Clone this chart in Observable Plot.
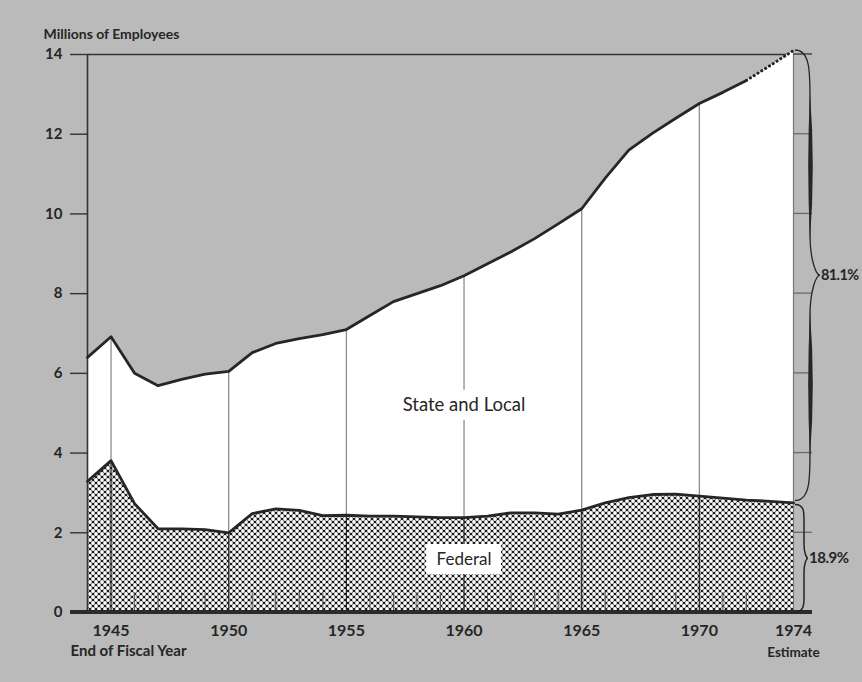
<!DOCTYPE html>
<html>
<head>
<meta charset="utf-8">
<script src="https://cdn.jsdelivr.net/npm/d3@7"></script>
<script src="https://cdn.jsdelivr.net/npm/@observablehq/plot@0.6"></script>
<style>
  html, body { margin: 0; padding: 0; background: #bababa; }
  #chart { width: 862px; height: 682px; }
  #chart svg { background: transparent; overflow: visible; }
</style>
</head>
<body>
<svg width="0" height="0" style="position:absolute">
  <defs>
    <pattern id="hatch" width="6" height="6" patternUnits="userSpaceOnUse">
      <rect width="6" height="6" fill="#1a1a1a"></rect>
      <circle cx="0" cy="0" r="1.9" fill="#fff"></circle>
      <circle cx="6" cy="0" r="1.9" fill="#fff"></circle>
      <circle cx="0" cy="6" r="1.9" fill="#fff"></circle>
      <circle cx="6" cy="6" r="1.9" fill="#fff"></circle>
      <circle cx="3" cy="3" r="1.9" fill="#fff"></circle>
    </pattern>
  </defs>
</svg>
<div id="chart"></div>
<script>
// ---- data (millions of employees, end of fiscal year) ----
const years   = [1944, 1945, 1946, 1947, 1948, 1949, 1950, 1951, 1952, 1953, 1954,
                 1955, 1956, 1957, 1958, 1959, 1960, 1961, 1962, 1963, 1964,
                 1965, 1966, 1967, 1968, 1969, 1970, 1971, 1972, 1973, 1974];
const total   = [6.40, 6.92, 6.00, 5.69, 5.85, 5.98, 6.05, 6.52, 6.75, 6.87, 6.97,
                 7.10, 7.45, 7.80, 8.00, 8.20, 8.45, 8.75, 9.05, 9.38, 9.75,
                 10.13, 10.90, 11.60, 12.02, 12.40, 12.77, 13.05, 13.35, 13.72, 14.10];
const federal = [3.29, 3.81, 2.73, 2.10, 2.10, 2.08, 2.00, 2.48, 2.60, 2.56, 2.43,
                 2.44, 2.42, 2.42, 2.40, 2.38, 2.38, 2.42, 2.50, 2.50, 2.47,
                 2.57, 2.75, 2.88, 2.96, 2.97, 2.92, 2.87, 2.82, 2.79, 2.75];
const estimateFrom = 1972;

const xTicks = [1945, 1950, 1955, 1960, 1965, 1970, 1974];
const yTicks = [0, 2, 4, 6, 8, 10, 12, 14];
const majorYears = [1945, 1950, 1955, 1960, 1965, 1970];
const areaLabels = ["State and Local", "Federal"];
const labelYears = [1960, 1960];
const labelValues = [5.2, 1.33];
const shareLabels = ["81.1%", "18.9%"];
const yTitle = "Millions of Employees";
const xTitle = "End of Fiscal Year";
const estimateLabel = "Estimate";

// ---- tables built from the arrays ----
const rows = years.map((year, i) => ({year, total: total[i], federal: federal[i]}));
const solidRows = rows.filter(d => d.year <= estimateFrom);
const dottedRows = rows.filter(d => d.year >= estimateFrom);
const majorRows = rows.filter(d => majorYears.includes(d.year));
const minorYears = years.filter(y => !majorYears.includes(y) && y !== years[0] && y !== years[years.length - 1]);
const labels = areaLabels.map((text, i) => ({text, year: labelYears[i], value: labelValues[i]}));

const FONT = "Lato, 'Noto Sans', sans-serif";
const INK = "#262626";
const labelSize = [18.5, 17];

// white boxes behind the area labels
const labelBoxes = (index, {x, y}) => {
  const g = d3.create("svg:g");
  const ctx = document.createElement("canvas").getContext("2d");
  labels.forEach((d, i) => {
    ctx.font = `${labelSize[i]}px ${FONT}`;
    const w = ctx.measureText(d.text).width;
    g.append("rect")
      .attr("x", x(d.year) - w / 2 - 10)
      .attr("y", y(d.value) - 15)
      .attr("width", w + 20)
      .attr("height", 30)
      .attr("fill", "#fff");
  });
  return g.node();
};

// right-hand ticks and the heavy base line
const frameDecor = (index, {y}, values, {width, marginLeft, marginRight}) => {
  const g = d3.create("svg:g");
  const xr = width - marginRight;
  g.selectAll("line.rt").data(yTicks.filter(v => v > 0)).join("line")
    .attr("x1", xr).attr("x2", xr + 19)
    .attr("y1", d => y(d)).attr("y2", d => y(d))
    .attr("stroke", d => d === yTicks[yTicks.length - 1] ? "#333" : "#6a6a6a")
    .attr("stroke-width", 1.3);
  g.append("line")
    .attr("x1", marginLeft - 17).attr("x2", xr + 19)
    .attr("y1", y(0)).attr("y2", y(0))
    .attr("stroke", "#2b2b2b").attr("stroke-width", 4);
  return g.node();
};

function bracePath(x0, y0, y1, v, tip, r1, r2) {
  const ym = (y0 + y1) / 2, xv = x0 + v, xt = x0 + tip;
  return `M${x0},${y0}` +
    `C${xv},${y0} ${xv},${y0 + r1 * 0.45} ${xv},${y0 + r1}` +
    `L${xv},${ym - r2}` +
    `C${xv},${ym - r2 * 0.4} ${xt - (tip - v) * 0.4},${ym} ${xt},${ym}` +
    `C${xt - (tip - v) * 0.4},${ym} ${xv},${ym + r2 * 0.4} ${xv},${ym + r2}` +
    `L${xv},${y1 - r1}` +
    `C${xv},${y1 - r1 * 0.45} ${xv},${y1} ${x0},${y1}`;
}
function lens(xv, a, b, tl, tr) {
  const m = (a + b) / 2;
  return `M${xv},${a}Q${xv + 2 * tr},${m} ${xv},${b}Q${xv - 2 * tl},${m} ${xv},${a}Z`;
}

const braces = (index, {y}, values, {width, marginRight}) => {
  const g = d3.create("svg:g").attr("text-anchor", "start");
  const x0 = width - marginRight + 2;
  const last = rows[rows.length - 1];
  const yT = y(last.total), yF = y(last.federal), yB = y(0);
  // big brace (state and local share)
  const v1 = 15, t1 = 25, r1 = 48, r2 = 40;
  g.append("path").attr("d", bracePath(x0, yT, yF - 2, v1, t1, r1, r2))
    .attr("fill", "none").attr("stroke", INK).attr("stroke-width", 1.3);
  const ym1 = (yT + yF - 2) / 2;
  g.append("path").attr("d", lens(x0 + v1, yT + r1 * 0.9, ym1 - r2 * 0.9, 1.8, 2.8)).attr("fill", INK);
  g.append("path").attr("d", lens(x0 + v1, ym1 + r2 * 0.9, yF - 2 - r1 * 0.9, 1.8, 2.8)).attr("fill", INK);
  g.append("text").text(shareLabels[0])
    .attr("text-anchor", "start")
    .attr("x", x0 + t1 + 1).attr("y", ym1).attr("dy", "0.35em")
    .attr("font-family", FONT).attr("font-weight", "bold").attr("font-size", 14.5)
    .attr("letter-spacing", -0.6).attr("fill", INK);
  // small brace (federal share)
  const v2 = 9, t2 = 13, s1 = 16, s2 = 14;
  g.append("path").attr("d", bracePath(x0, yF + 2, yB, v2, t2, s1, s2))
    .attr("fill", "none").attr("stroke", INK).attr("stroke-width", 1.5);
  const ym2 = (yF + 2 + yB) / 2;
  g.append("text").text(shareLabels[1])
    .attr("text-anchor", "start")
    .attr("x", x0 + t2 + 1).attr("y", ym2).attr("dy", "0.35em")
    .attr("font-family", FONT).attr("font-weight", "bold").attr("font-size", 15)
    .attr("letter-spacing", -0.5).attr("fill", INK);
  return g.node();
};

const chart = Plot.plot({
  width: 862,
  height: 682,
  marginLeft: 87,
  marginRight: 69,
  marginTop: 54,
  marginBottom: 70,
  style: `font-family: ${FONT}; color: ${INK}; background: transparent; overflow: visible;`,
  x: {domain: [years[0], years[years.length - 1]]},
  y: {domain: [0, 14]},
  marks: [
    Plot.ruleY([yTicks[yTicks.length - 1]], {stroke: "#333", strokeWidth: 1.3}),
    Plot.areaY(rows, {x: "year", y1: "federal", y2: "total", fill: "#ffffff"}),
    Plot.areaY(rows, {x: "year", y: "federal", fill: "url(#hatch)"}),
    Plot.ruleX(minorYears, {y1: 0, y2: 0.5, stroke: "#5a5a5a", strokeWidth: 1}),
    Plot.ruleX(majorRows, {x: "year", y1: 0, y2: "federal", stroke: "#2a2a2a", strokeWidth: 1.3}),
    Plot.ruleX(majorRows, {x: "year", y1: "federal", y2: "total", stroke: "#8c8c8c", strokeWidth: 1.3}),
    Plot.ruleX([years[0]], {y1: 0, y2: 14, stroke: "#333", strokeWidth: 1.6}),
    Plot.ruleX([years[years.length - 1]], {y1: 0, y2: 14, stroke: "#777", strokeWidth: 1.2}),
    labelBoxes,
    Plot.text(labels.slice(0, 1), {x: "year", y: "value", text: "text", fontSize: labelSize[0], fill: INK, fontFamily: FONT}),
    Plot.text(labels.slice(1), {x: "year", y: "value", text: "text", fontSize: labelSize[1], fill: INK, fontFamily: FONT}),
    Plot.line(solidRows, {x: "year", y: "total", stroke: INK, strokeWidth: 2.8}),
    Plot.line(dottedRows, {x: "year", y: "total", stroke: INK, strokeWidth: 3, strokeDasharray: "0.3,4.2", strokeLinecap: "round"}),
    Plot.line(rows, {x: "year", y: "federal", stroke: INK, strokeWidth: 2.8}),
    Plot.axisY({ticks: yTicks, tickSize: 17, tickPadding: 8, stroke: "#333", strokeWidth: 1.4,
                fontSize: 15, fontWeight: "bold", fill: INK, label: null, tickFormat: d => String(d)}),
    Plot.axisX({ticks: xTicks, tickSize: 0, tickPadding: 12, fontSize: 16, fontWeight: "bold",
                fill: INK, label: null, tickFormat: d => String(d)}),
    frameDecor,
    braces,
    Plot.text([yTitle], {frameAnchor: "top-left", dx: -44, dy: -25, textAnchor: "start",
                         fontSize: 14, fontWeight: "bold", fill: INK}),
    Plot.text([xTitle], {frameAnchor: "bottom-left", dx: -17, dy: 43, textAnchor: "start",
                         fontSize: 15, fontWeight: "bold", fill: INK}),
    Plot.text([estimateLabel], {x: [xTicks[xTicks.length - 1]], frameAnchor: "bottom", dy: 44,
                         fontSize: 13.5, fontWeight: "bold", fill: INK})
  ]
});
document.getElementById("chart").appendChild(chart);
</script>
</body>
</html>
